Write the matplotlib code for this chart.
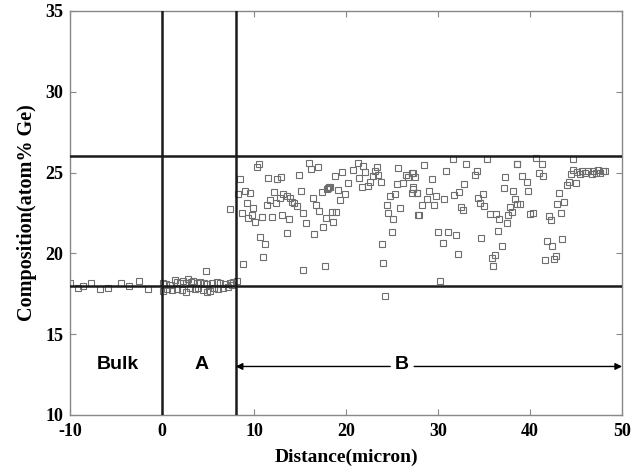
import matplotlib
matplotlib.use("Agg")
import matplotlib.pyplot as plt

plt.rcParams["axes.unicode_minus"] = False

# Bulk region
bulk_x = [-10.0, -9.1, -8.6, -7.75, -6.7, -5.9, -4.5, -3.6, -2.5, -1.5]
bulk_y = [18.19, 17.86, 17.98, 18.17, 17.80, 17.86, 18.17, 17.98, 18.29, 17.80]

# Region A
a_x = [0.14, 0.43, 0.87, 1.41, 1.67, 1.96, 2.32, 2.61, 2.86, 3.12, 3.41, 3.77, 4.13, 4.57,
       4.86, 5.4, 5.94, 6.3, 6.85, 7.39, 7.75, 8.12, 0.07, 0.51, 1.05, 1.59, 2.14, 2.61,
       3.04, 3.59, 3.95, 4.49, 4.86, 5.22, 5.65, 6.12, 6.67, 7.21, 7.57, 4.75, 7.39]
a_y = [18.15, 18.11, 18.04, 18.35, 18.25, 18.19, 18.31, 18.15, 18.39, 18.25, 18.31, 18.15,
       18.25, 18.19, 18.09, 18.15, 18.25, 18.15, 18.11, 18.19, 18.25, 18.29, 17.69, 17.78,
       17.73, 17.78, 17.73, 17.63, 17.84, 17.78, 17.84, 17.73, 17.63, 17.69, 17.84, 17.78,
       17.88, 17.94, 18.04, 18.93, 22.75]

# Region B
b_x = [10.58, 10.36, 8.48, 11.56, 12.46, 12.9, 14.89, 15.98, 16.16, 16.92, 8.30, 9.02, 9.56,
       9.2, 8.66, 9.93, 9.38, 9.75, 10.11, 10.87, 11.38, 11.74, 12.17, 12.35, 12.82, 13.19,
       13.55, 13.91, 14.17, 14.38, 14.64, 11.95, 13.08, 13.8, 15.07, 15.29, 15.65, 16.38,
       16.74, 17.1, 17.35, 17.79, 17.46, 10.65, 11.16, 11.01, 13.62, 16.52, 8.84, 15.36,
       17.72, 17.9, 18.19,
       18.8, 19.53, 20.25, 20.79, 21.26, 21.81, 22.06, 21.45, 21.7, 22.42, 22.6, 22.97, 23.33,
       23.51, 23.76, 23.15, 18.26, 18.08, 19.16, 19.89, 19.34, 18.44, 18.91, 18.62, 23.87,
       24.05, 24.24, 25.68, 26.52, 26.77, 27.13, 26.16, 25.58, 25.32, 24.78, 27.13, 27.68,
       27.31, 24.49, 24.6, 25.87, 25.14, 24.96, 27.86,
       28.48, 31.6, 33.05, 35.37, 38.63, 27.25, 27.5, 29.32, 30.84, 34.2, 34.03, 37.29, 27.32,
       27.76, 29.03, 29.79, 28.77, 28.23, 29.57, 30.69, 31.78, 32.32, 32.87, 34.86, 34.39,
       34.57, 35.0, 32.47, 32.68, 37.11, 38.19, 38.37, 38.55, 37.83, 38.01, 37.65, 35.66,
       36.31, 36.67, 37.47, 27.97, 29.97, 31.05, 31.96, 30.51, 32.14, 34.64, 36.56, 36.92,
       36.2, 35.84, 36.02, 30.22,
       38.55, 40.62, 41.27, 44.61, 41.02, 41.45, 39.1, 39.64, 39.82, 38.92, 40.0, 40.37, 42.07,
       42.25, 43.16, 42.97, 43.7, 43.34, 44.06, 44.28, 45.0, 44.46, 44.71, 45.08, 45.44, 45.62,
       45.98, 46.34, 46.7, 46.89, 47.18, 47.43, 47.61, 47.9, 48.16, 43.52, 41.89, 42.43, 42.79,
       42.61, 41.63]
b_y = [25.53, 25.37, 24.61, 24.69, 24.63, 24.75, 24.87, 25.62, 25.22, 25.37, 23.66, 23.88, 23.72,
       23.1, 22.48, 22.79, 22.17, 22.38, 21.92, 22.27, 23.0, 23.31, 23.82, 23.1, 23.41, 23.66,
       23.57, 23.41, 23.2, 23.1, 22.96, 22.27, 22.38, 22.13, 23.88, 22.48, 21.9, 23.41,
       23.0, 22.63, 23.82, 22.17, 21.61, 21.04, 20.56, 19.80, 21.24, 21.18, 19.35, 18.97,
       19.24, 23.99, 24.09,
       24.79, 25.06, 24.38, 25.16, 25.62, 25.41, 25.06, 24.65, 24.13, 24.17, 24.44, 24.79, 25.37,
       24.85, 24.40, 25.12, 24.13, 24.03, 23.92, 23.66, 23.31, 22.58, 22.54, 21.97, 20.58,
       19.43, 17.39, 25.27, 24.85, 24.71, 24.96, 24.38, 24.28, 23.68, 23.55, 23.72, 23.72,
       24.09, 23.0, 22.52, 22.79, 22.11, 21.35, 22.38,
       25.47, 25.82, 25.51, 25.84, 25.53, 25.0, 24.71, 24.58, 25.1, 25.1, 24.85, 24.75, 23.97,
       23.76, 23.88, 23.57, 23.35, 23.0, 23.0, 23.37, 23.62, 23.82, 24.28, 23.68, 23.41,
       23.14, 22.96, 22.89, 22.69, 24.03, 23.86, 23.35, 23.06, 22.89, 22.58, 22.38, 22.44,
       22.42, 22.13, 21.9, 22.38, 21.35, 21.35, 21.14, 20.62, 19.96, 20.93, 21.39, 20.46,
       19.9, 19.7, 19.22, 18.29,
       25.53, 25.88, 25.53, 25.82, 24.96, 24.79, 24.79, 24.44, 23.86, 23.06, 22.44, 22.52, 22.32,
       22.07, 23.72, 23.06, 23.16, 22.48, 24.23, 24.44, 24.34, 24.91, 25.16, 25.06, 24.91, 25.12,
       24.96, 25.12, 24.91, 25.12, 25.0, 25.16, 24.96, 25.12, 25.12, 20.87, 20.77, 20.46, 19.86,
       19.65, 19.59]

h_lines = [26, 18]
v_lines = [0, 8]
x_ticks = [-10, 0, 10, 20, 30, 40, 50]
y_ticks = [10, 15, 20, 25, 30, 35]
regions = ["Bulk", "A", "B"]
region_x = [-4.8, 4.3, 26.1]
region_y = 13.1

fig = plt.figure(figsize=(6.37, 4.71), dpi=100)
ax = fig.add_axes([0.110, 0.119, 0.8666, 0.8577])

all_x = bulk_x + a_x + b_x
all_y = bulk_y + a_y + b_y
ax.plot(all_x, all_y, linestyle="none", marker="s", markersize=4.6,
        markerfacecolor="none", markeredgecolor="#6e6e6e", markeredgewidth=0.8, zorder=2)

for yv in h_lines:
    ax.axhline(yv, color="#1a1a1a", lw=1.8, zorder=3)
for xv in v_lines:
    ax.axvline(xv, color="#1a1a1a", lw=1.8, zorder=3)

ax.set_xlim(-10, 50)
ax.set_ylim(10, 35)
ax.set_xticks(x_ticks)
ax.set_yticks(y_ticks)
ax.tick_params(direction="in", length=4, width=0.8, color="#888888",
               top=True, right=True, labelsize=13)
ax.tick_params(axis="x", pad=6)
ax.tick_params(axis="y", pad=5)
for lab in ax.get_xticklabels() + ax.get_yticklabels():
    lab.set_fontfamily("Liberation Serif")
    lab.set_fontweight("bold")
for s in ax.spines.values():
    s.set_color("#888888")
    s.set_linewidth(1.0)

ax.set_xlabel("Distance(micron)", fontsize=14, fontweight="bold",
              fontfamily="Liberation Serif", labelpad=6)
ax.set_ylabel("Composition(atom% Ge)", fontsize=14.5, fontweight="bold",
              fontfamily="Liberation Serif", labelpad=6)

for name, xv in zip(regions, region_x):
    ax.text(xv, region_y, name, fontsize=14, fontweight="bold",
            fontfamily="Liberation Sans", ha="center", va="center", zorder=4)

arrow_y = 13.0
ax.annotate("", xy=(8, arrow_y), xytext=(24.8, arrow_y),
            arrowprops=dict(arrowstyle="-|>", color="black", lw=1.0,
                            mutation_scale=10, shrinkA=0, shrinkB=0))
ax.annotate("", xy=(50, arrow_y), xytext=(27.4, arrow_y),
            arrowprops=dict(arrowstyle="-|>", color="black", lw=1.0,
                            mutation_scale=10, shrinkA=0, shrinkB=0))

fig.savefig("out.png", dpi=100)
